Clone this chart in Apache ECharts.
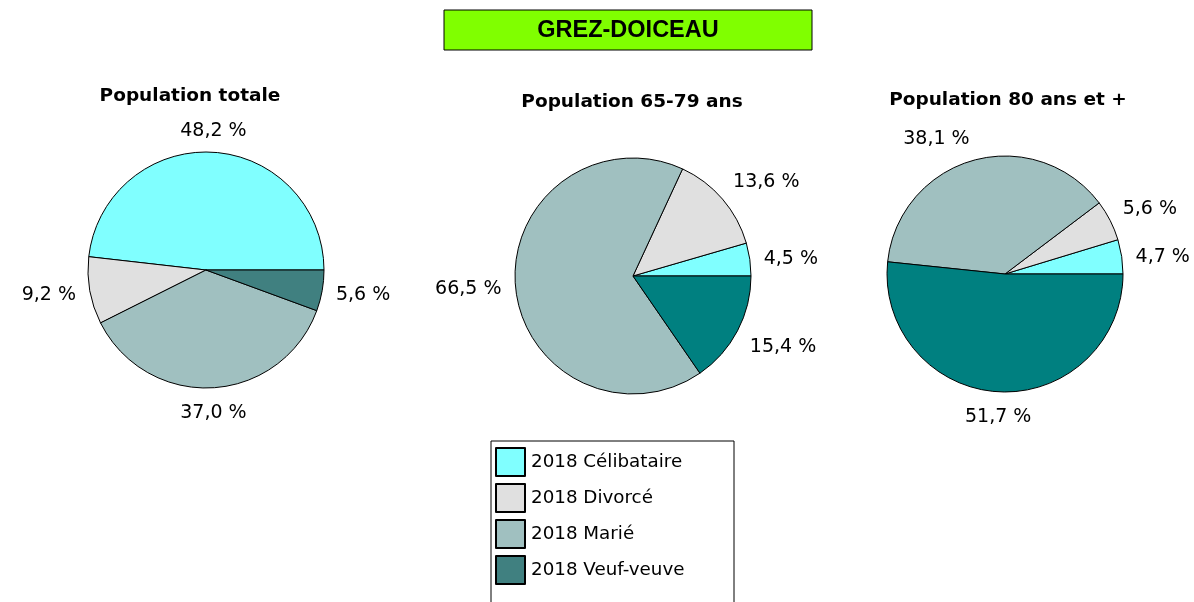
<!DOCTYPE html>
<html>
<head>
<meta charset="utf-8">
<script src="https://cdn.jsdelivr.net/npm/echarts@6/dist/echarts.min.js"></script>
<style>
html,body{margin:0;padding:0;background:#fff;}
#chart{width:1194px;height:602px;}
</style>
</head>
<body>
<div id="chart"></div>
<script>
// donnees
var categories = ['2018 Célibataire', '2018 Divorcé', '2018 Marié', '2018 Veuf-veuve'];
var pieTitles = ['Population totale', 'Population 65-79 ans', 'Population 80 ans et +'];
var popTotale = [48.2, 9.2, 37.0, 5.6];
var pop6579 = [4.5, 13.6, 66.5, 15.4];
var pop80 = [4.7, 5.6, 38.1, 51.7];
var pieValues = [popTotale, pop6579, pop80];

var colorsTotale = ['#80FFFF', '#E0E0E0', '#A0C0C0', '#408080'];
var colorsAge = ['#80FFFF', '#E0E0E0', '#A0C0C0', '#008080'];
var pieColors = [colorsTotale, colorsAge, colorsAge];
var centers = [[206, 270], [633, 276], [1005, 274]];
var titlePos = [[185, 82], [627, 88], [1003, 86]];
var R = 118;
var FONT = 'DejaVu Sans, Verdana, sans-serif';

function fmt(v){
    return v.toFixed(1).replace('.', ',') + ' %';
}

function clamp(v){
    return Math.max(0, Math.min(1, v));
}

// angle median d'une part
function midAngle(vals, i){
    var tot = 0, before = 0;
    for (var k = 0; k < vals.length; k++) {
        tot += vals[k];
        if (k < i) before += vals[k];
    }
    return (before + vals[i] / 2) / tot * Math.PI * 2;
}

// etiquettes a l'exterieur, accrochees par le coin le plus proche (comme excel)
function makeLayout(s){
    return function(p){
        var a = midAngle(pieValues[s], p.dataIndex);
        var c = Math.cos(a), sn = Math.sin(a);
        var hw = p.labelRect.width / 2, hh = p.labelRect.height / 2;
        var d = R + 14;
        var fx = clamp((Math.abs(c) - 0.08) * 8) * (c < 0 ? -1 : 1);
        var fy = clamp((Math.abs(sn) - 0.2) * 3) * (sn < 0 ? -1 : 1);
        return {
            x: centers[s][0] + d * c + hw * fx,
            y: centers[s][1] - d * sn - hh * fy + 2,
            align: 'center',
            verticalAlign: 'middle'
        };
    };
}

var series = [];
var titles = [];
for (var s = 0; s < 3; s++) {
    var data = [];
    for (var i = 0; i < categories.length; i++) {
        data.push({
            name: categories[i],
            value: pieValues[s][i],
            itemStyle: {color: pieColors[s][i]}
        });
    }
    series.push({
        type: 'pie',
        center: centers[s],
        radius: R,
        startAngle: 0,
        clockwise: false,
        animation: false,
        silent: true,
        itemStyle: {borderColor: '#000', borderWidth: 1},
        label: {
            show: true,
            position: 'outside',
            overflow: 'none',
            width: 120,
            formatter: function(p){ return fmt(p.value); },
            fontFamily: FONT,
            fontSize: 19,
            color: '#000'
        },
        labelLine: {show: false},
        labelLayout: makeLayout(s),
        data: data
    });
    titles.push({
        text: pieTitles[s],
        left: titlePos[s][0],
        top: titlePos[s][1],
        textAlign: 'center',
        textStyle: {fontFamily: FONT, fontSize: 18.5, fontWeight: 'bold', color: '#000'}
    });
}

var myChart = echarts.init(document.getElementById('chart'));
myChart.setOption({
    backgroundColor: '#fff',
    title: titles,
    legend: {
        orient: 'vertical',
        left: 495,
        top: 447,
        padding: 0,
        itemWidth: 29,
        itemHeight: 28,
        itemGap: 6,
        icon: 'rect',
        selectedMode: false,
        data: categories,
        textStyle: {fontFamily: FONT, fontSize: 18.3, color: '#000', padding: [0, 0, 0, 1]}
    },
    graphic: [
        {
            type: 'rect',
            shape: {x: 444, y: 10, width: 368, height: 40},
            style: {fill: '#80FF00', stroke: '#000', lineWidth: 1}
        },
        {
            type: 'text',
            x: 628,
            y: 31,
            style: {
                text: 'GREZ-DOICEAU',
                font: 'bold 23.5px "Liberation Sans", Arial, sans-serif',
                fill: '#000',
                align: 'center',
                verticalAlign: 'middle'
            }
        },
        {
            type: 'rect',
            z: -1,
            shape: {x: 491, y: 441, width: 243, height: 200},
            style: {fill: '#fff', stroke: '#000', lineWidth: 1}
        }
    ],
    series: series
});
</script>
</body>
</html>
